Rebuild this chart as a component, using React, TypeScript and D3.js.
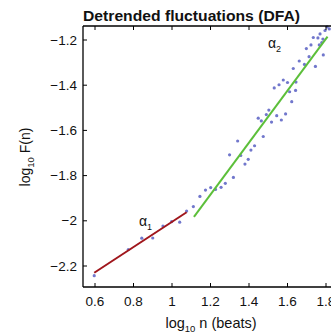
import React from "react";
import * as d3 from "d3";

const xTicks = [0.6, 0.8, 1, 1.2, 1.4, 1.6, 1.8];
const yTicks = [-2.2, -2, -1.8, -1.6, -1.4, -1.2];

const pointX = [
  0.596, 0.773, 0.843, 0.9, 0.953, 0.998, 1.04, 1.076, 1.111, 1.145, 1.174, 1.201, 1.226, 1.255,
  1.277, 1.319, 1.299, 1.341, 1.357, 1.379, 1.396, 1.41, 1.429, 1.474, 1.448, 1.464, 1.49, 1.503,
  1.517, 1.544, 1.568, 1.59, 1.622, 1.531, 1.556, 1.578, 1.6, 1.611, 1.642, 1.644, 1.63, 1.661,
  1.688, 1.698, 1.722, 1.712, 1.745, 1.734, 1.758, 1.769, 1.784, 1.778, 1.786, 1.795, 1.806,
  1.765, 1.817,
];
const pointY = [
  -2.243, -2.127, -2.077, -2.076, -2.023, -2.004, -2.006, -1.957, -1.937, -1.892, -1.864, -1.853,
  -1.861, -1.852, -1.834, -1.808, -1.708, -1.647, -1.711, -1.749, -1.728, -1.687, -1.668, -1.627,
  -1.546, -1.558, -1.53, -1.51, -1.563, -1.535, -1.554, -1.527, -1.473, -1.412, -1.398, -1.377,
  -1.388, -1.429, -1.423, -1.386, -1.326, -1.293, -1.308, -1.238, -1.222, -1.274, -1.317, -1.189,
  -1.191, -1.173, -1.196, -1.212, -1.266, -1.158, -1.142, -1.222, -1.151,
];

const fit1X = [0.596, 1.076];
const fit1Y = [-2.23, -1.962];
const fit2X = [1.114, 1.808];
const fit2Y = [-1.983, -1.185];

export default function App() {
  const W = 331;
  const H = 334;
  const left = 83;
  const top = 26;
  const bottom = 287;
  const x = d3.scaleLinear().domain([0.6, 1.8]).range([95, 326]);
  const y = d3.scaleLinear().domain([-2.2, -1.2]).range([266, 40]);
  const line = d3
    .line<[number, number]>()
    .x((d) => x(d[0]))
    .y((d) => y(d[1]));
  const font = "'Liberation Sans', Arial, Helvetica, sans-serif";
  const pts = pointX.map((v, i) => [v, pointY[i]] as [number, number]);
  return (
    <svg
      width={W}
      height={H}
      style={{ position: "absolute", left: 0, top: 0, background: "#fff" }}
      fontFamily={font}
    >
      <rect x={0} y={0} width={W} height={H} fill="#fff" />
      <text x={83} y={21} fontSize={14} fontWeight="bold" fill="#111" textLength={217} lengthAdjust="spacingAndGlyphs">
        Detrended fluctuations (DFA)
      </text>
      {pts.map((p, i) => (
        <circle key={i} cx={x(p[0])} cy={y(p[1])} r={1.6} fill="#7177cc" />
      ))}
      <path
        d={line(fit1X.map((v, i) => [v, fit1Y[i]]) as [number, number][]) || ""}
        stroke="#a0161c"
        strokeWidth={2}
        fill="none"
      />
      <path
        d={line(fit2X.map((v, i) => [v, fit2Y[i]]) as [number, number][]) || ""}
        stroke="#5cbf3a"
        strokeWidth={2}
        fill="none"
      />
      <line x1={left} x2={W} y1={top} y2={top} stroke="#000" strokeWidth={1.3} />
      <line x1={left} x2={W} y1={bottom} y2={bottom} stroke="#000" strokeWidth={1.3} />
      <line x1={left} x2={left} y1={top} y2={bottom} stroke="#000" strokeWidth={1.3} />
      {xTicks.map((t) => (
        <g key={t}>
          <line x1={x(t)} x2={x(t)} y1={bottom} y2={bottom - 4} stroke="#000" strokeWidth={1} />
          <line x1={x(t)} x2={x(t)} y1={top} y2={top + 4} stroke="#000" strokeWidth={1} />
          <text x={x(t)} y={306} fontSize={13.5} textAnchor="middle" fill="#111">
            {d3.format("")(t)}
          </text>
        </g>
      ))}
      {yTicks.map((t) => (
        <g key={t}>
          <line x1={left} x2={left + 4} y1={y(t)} y2={y(t)} stroke="#000" strokeWidth={1} />
          <text x={77} y={y(t) + 4.5} fontSize={13.5} textAnchor="end" fill="#111">
            {d3.format("")(t).replace("-", "\u2212")}
          </text>
        </g>
      ))}
      <text x={139} y={226} fontSize={14} fill="#111">
        α<tspan fontSize={9} dy={4}>1</tspan>
      </text>
      <text x={268} y={48} fontSize={14} fill="#111">
        α<tspan fontSize={9} dy={4}>2</tspan>
      </text>
      <text x={211} y={328} fontSize={14.5} textAnchor="middle" fill="#111">
        log<tspan fontSize={9.5} dy={4}>10</tspan>
        <tspan dy={-4}> n (beats)</tspan>
      </text>
      <text
        transform={`translate(30,157) rotate(-90)`}
        fontSize={14}
        textAnchor="middle"
        fill="#111"
      >
        log<tspan fontSize={9.5} dy={4}>10</tspan>
        <tspan dy={-4}> F(n)</tspan>
      </text>
    </svg>
  );
}
